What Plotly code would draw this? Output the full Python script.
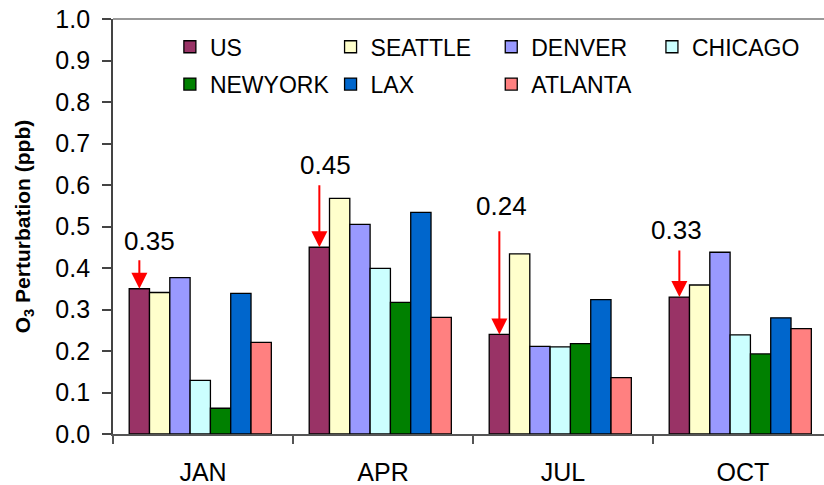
import plotly.graph_objects as go

# Monthly O3 perturbation by region (ppb)
months = ["JAN", "APR", "JUL", "OCT"]
us = [0.35, 0.45, 0.24, 0.33]
seattle = [0.341, 0.568, 0.434, 0.359]
denver = [0.377, 0.505, 0.211, 0.438]
chicago = [0.129, 0.399, 0.210, 0.239]
newyork = [0.062, 0.317, 0.218, 0.193]
lax = [0.339, 0.534, 0.324, 0.280]
atlanta = [0.221, 0.281, 0.136, 0.254]

series_names = ["US", "SEATTLE", "DENVER", "CHICAGO", "NEWYORK", "LAX", "ATLANTA"]
series_values = [us, seattle, denver, chicago, newyork, lax, atlanta]
series_colors = ["#993366", "#FFFFCC", "#9999FF", "#CCFFFF", "#008000", "#0066CC", "#FF8080"]

# placement of the US call-outs (arrow tail height, label height, label shift)
arrow_tail_y = [0.422, 0.603, 0.492, 0.446]
label_y = [0.464, 0.649, 0.550, 0.491]
label_dx = [0.054, 0.032, 0.013, -0.014]

# legend grid: 4 columns x 2 rows inside the plot area (paper units)
legend_col_x = [0.080, 0.306, 0.532, 0.758]
legend_row_y = [0.933, 0.843]

FONT = "Liberation Sans, Arial, sans-serif"
BAR_W = 0.1128
GROUP_START = -0.41

fig = go.Figure()
legend_layouts = {}
for k, (name, vals, col) in enumerate(zip(series_names, series_values, series_colors)):
    lg = "legend" if k == 0 else f"legend{k + 1}"
    fig.add_trace(go.Bar(
        x=months, y=vals, name=name,
        marker=dict(color=col, line=dict(color="#000000", width=1.3)),
        width=BAR_W, offset=GROUP_START + k * BAR_W,
        legend=lg,
    ))
    legend_layouts[lg] = dict(
        x=legend_col_x[k % 4], y=legend_row_y[k // 4],
        xanchor="left", yanchor="middle",
        font=dict(family=FONT, size=23, color="#000000"),
        bgcolor="rgba(0,0,0,0)",
    )

us_center = GROUP_START + BAR_W / 2
for i, v in enumerate(us):
    xc = i + us_center
    fig.add_annotation(
        x=xc, y=v, ax=xc, ay=arrow_tail_y[i], axref="x", ayref="y",
        xref="x", yref="y", text="", showarrow=True,
        arrowhead=2, arrowsize=1.6, arrowwidth=2, arrowcolor="#FF0000", standoff=0,
    )
    fig.add_annotation(
        x=xc + label_dx[i], y=label_y[i], xref="x", yref="y",
        text=f"{v:.2f}", showarrow=False,
        font=dict(family=FONT, size=26, color="#000000"),
    )

# top frame line of the plot area
fig.add_shape(type="line", xref="paper", yref="paper", x0=0, x1=1, y0=1, y1=1,
              line=dict(color="#999999", width=2))

fig.update_layout(
    width=824, height=485,
    margin=dict(l=113, r=0, t=19, b=51),
    paper_bgcolor="white", plot_bgcolor="white",
    barmode="overlay",
    showlegend=True,
    font=dict(family=FONT, color="#000000"),
    xaxis=dict(
        type="category", range=[-0.5, 3.45],
        showline=True, linecolor="#555555", linewidth=2,
        ticks="outside", tickson="boundaries", ticklen=8, tickcolor="#555555", tickwidth=1.5,
        tickfont=dict(family=FONT, size=25, color="#000000"),
        ticklabelstandoff=15,
        showgrid=False, zeroline=False, fixedrange=True,
    ),
    yaxis=dict(
        range=[0, 1.0], tick0=0, dtick=0.1, tickformat=".1f", ticksuffix="\u00a0",
        showline=True, linecolor="#444444", linewidth=2,
        ticks="outside", ticklen=9, tickcolor="#444444", tickwidth=1.5,
        tickfont=dict(family=FONT, size=25, color="#000000"),
        title=dict(text="<b>O<sub>3</sub> Perturbation (ppb)</b>",
                   font=dict(family=FONT, size=21, color="#000000"), standoff=19),
        showgrid=False, zeroline=False, fixedrange=True,
    ),
    **legend_layouts,
)

fig.write_html("out.html")
